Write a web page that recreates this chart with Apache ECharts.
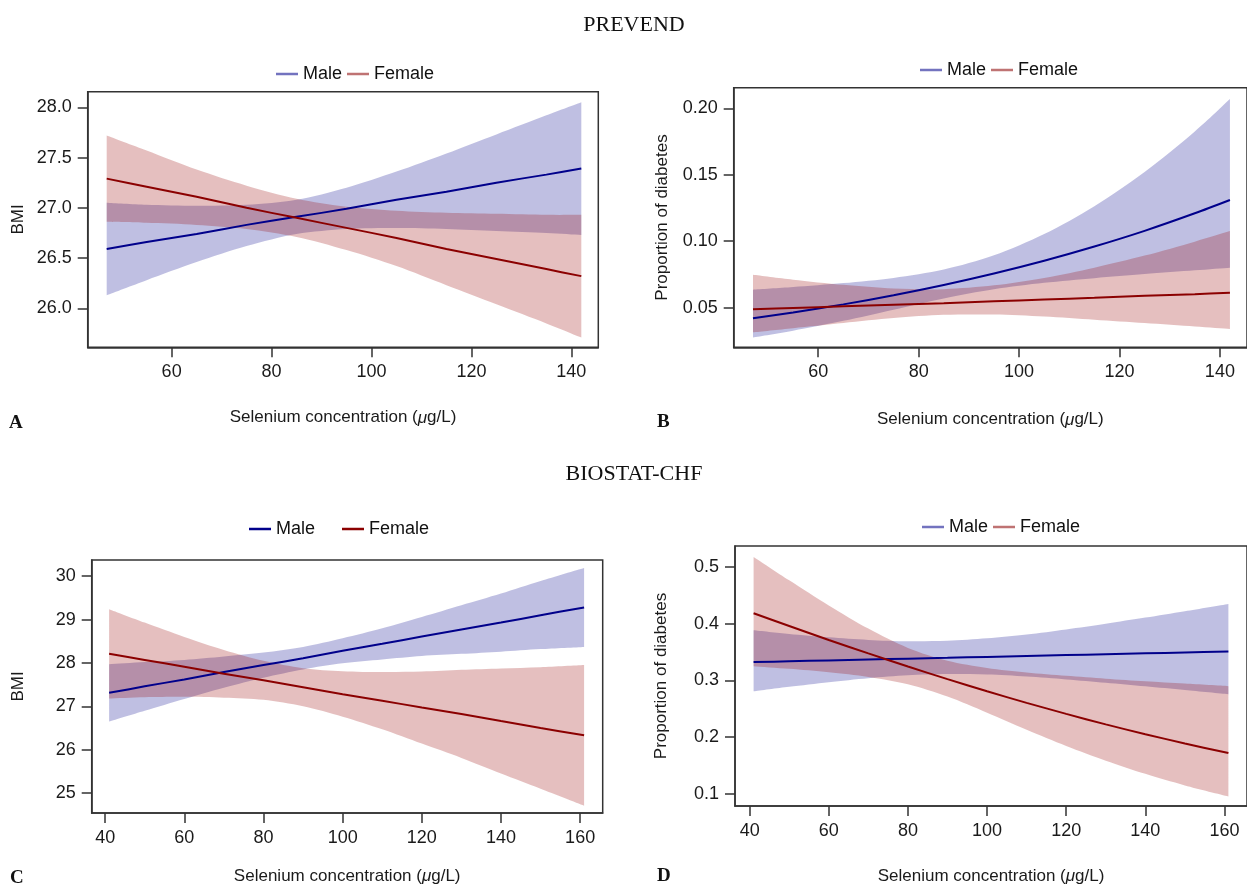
<!DOCTYPE html>
<html>
<head>
<meta charset="utf-8">
<script src="https://cdn.jsdelivr.net/npm/echarts@6/dist/echarts.min.js"></script>
<style>
html,body{margin:0;padding:0;background:#fff;}
#chart{width:1247px;height:886px;}
</style>
</head>
<body>
<div id="chart"></div>
<script>
// ---------- DATA ----------
// Panel A/B x positions (PREVEND), Panel C/D x positions (BIOSTAT-CHF)
const xsPrevend = [47, 55, 65, 75, 85, 95, 105, 115, 125, 135, 142];
const xsBiostat = [41, 50, 60, 70, 80, 90, 100, 110, 120, 130, 140, 150, 161];

// Panel A: BMI (PREVEND)
const maleA_fit = [26.59, 26.66, 26.74, 26.83, 26.91, 26.99, 27.08, 27.16, 27.25, 27.33, 27.39];
const maleA_lo  = [26.13, 26.28, 26.46, 26.62, 26.74, 26.79, 26.80, 26.79, 26.77, 26.75, 26.73];
const maleA_hi  = [27.05, 27.03, 27.02, 27.03, 27.08, 27.20, 27.36, 27.54, 27.73, 27.92, 28.05];
const femA_fit  = [27.29, 27.21, 27.11, 27.00, 26.90, 26.80, 26.70, 26.59, 26.49, 26.39, 26.32];
const femA_lo   = [26.86, 26.85, 26.83, 26.79, 26.71, 26.58, 26.42, 26.23, 26.04, 25.85, 25.71];
const femA_hi   = [27.72, 27.57, 27.38, 27.22, 27.09, 27.01, 26.97, 26.95, 26.94, 26.93, 26.93];

// Panel B: Proportion of diabetes (PREVEND)
const maleB_fit = [0.0420, 0.0464, 0.0525, 0.0594, 0.0671, 0.0757, 0.0853, 0.0960, 0.1078, 0.1210, 0.1310];
const maleB_lo  = [0.0276, 0.0327, 0.0401, 0.0485, 0.0570, 0.0639, 0.0687, 0.0722, 0.0753, 0.0781, 0.0801];
const maleB_hi  = [0.0635, 0.0655, 0.0685, 0.0724, 0.0787, 0.0894, 0.1054, 0.1264, 0.1521, 0.1826, 0.2070];
const femB_fit  = [0.0488, 0.0498, 0.0510, 0.0522, 0.0534, 0.0548, 0.0561, 0.0574, 0.0589, 0.0602, 0.0613];
const femB_lo   = [0.0315, 0.0346, 0.0385, 0.0422, 0.0446, 0.0448, 0.0433, 0.0409, 0.0384, 0.0358, 0.0340];
const femB_hi   = [0.0748, 0.0711, 0.0672, 0.0644, 0.0639, 0.0668, 0.0724, 0.0801, 0.0892, 0.0997, 0.1076];

// Panel C: BMI (BIOSTAT-CHF)
const maleC_fit = [27.31, 27.46, 27.62, 27.79, 27.95, 28.11, 28.28, 28.44, 28.61, 28.77, 28.93, 29.10, 29.28];
const maleC_lo  = [26.65, 26.90, 27.17, 27.43, 27.66, 27.85, 27.99, 28.08, 28.16, 28.21, 28.26, 28.32, 28.37];
const maleC_hi  = [27.97, 28.02, 28.07, 28.15, 28.24, 28.37, 28.57, 28.80, 29.06, 29.33, 29.60, 29.89, 30.19];
const femC_fit  = [28.21, 28.07, 27.91, 27.75, 27.60, 27.44, 27.28, 27.13, 26.97, 26.82, 26.66, 26.50, 26.33];
const femC_lo   = [27.18, 27.21, 27.22, 27.20, 27.15, 27.00, 26.76, 26.47, 26.14, 25.81, 25.45, 25.10, 24.71];
const femC_hi   = [29.24, 28.93, 28.60, 28.30, 28.05, 27.88, 27.81, 27.79, 27.80, 27.84, 27.87, 27.90, 27.95];

// Panel D: Proportion of diabetes (BIOSTAT-CHF)
const maleD_fit = [0.3322, 0.3335, 0.3351, 0.3366, 0.3382, 0.3397, 0.3413, 0.3428, 0.3444, 0.3460, 0.3475, 0.3491, 0.3508];
const maleD_lo  = [0.2806, 0.2886, 0.2968, 0.3038, 0.3089, 0.3111, 0.3101, 0.3067, 0.3017, 0.2959, 0.2895, 0.2828, 0.2754];
const maleD_hi  = [0.3881, 0.3817, 0.3757, 0.3711, 0.3688, 0.3696, 0.3739, 0.3808, 0.3897, 0.3997, 0.4105, 0.4218, 0.4346];
const femD_fit  = [0.4180, 0.3956, 0.3711, 0.3474, 0.3243, 0.3021, 0.2807, 0.2604, 0.2410, 0.2225, 0.2052, 0.1889, 0.1720];
const femD_lo   = [0.3250, 0.3203, 0.3142, 0.3060, 0.2931, 0.2715, 0.2431, 0.2131, 0.1846, 0.1586, 0.1354, 0.1150, 0.0957];
const femD_hi   = [0.5172, 0.4761, 0.4319, 0.3911, 0.3571, 0.3345, 0.3218, 0.3139, 0.3080, 0.3030, 0.2985, 0.2943, 0.2898];

// Tick labels
const xTicksPrevend = [60, 80, 100, 120, 140];
const xTicksBiostat = [40, 60, 80, 100, 120, 140, 160];
const yTicksA = [26.0, 26.5, 27.0, 27.5, 28.0];
const yTicksB = [0.05, 0.10, 0.15, 0.20];
const yTicksC = [25, 26, 27, 28, 29, 30];
const yTicksD = [0.1, 0.2, 0.3, 0.4, 0.5];

const seriesNames = ['Male', 'Female'];
const cohortTitles = ['PREVEND', 'BIOSTAT-CHF'];
const panelLetters = ['A', 'B', 'C', 'D'];
const xAxisTitle = 'Selenium concentration ({mu|\u03bc}g/L)';
const yTitles = ['BMI', 'Proportion of diabetes', 'BMI', 'Proportion of diabetes'];

// ---------- STYLE / LAYOUT ----------
const SANS = "'Liberation Sans', Arial, Helvetica, sans-serif";
const SERIF = "'Liberation Serif', 'Times New Roman', serif";
const LINE_BLUE = '#00008b';
const LINE_RED = '#8b0000';
const BAND_BLUE = 'rgba(0,0,139,0.25)';
const BAND_RED = 'rgba(150,0,0,0.25)';
const AXIS_COL = '#333';

const panels = [
  { xs: xsPrevend, m: [maleA_fit, maleA_lo, maleA_hi], f: [femA_fit, femA_lo, femA_hi],
    grid: { left: 87.7, top: 91.7, width: 510.6, height: 255.6 },
    x: [43.2, 145.4], y: [25.612, 28.155], xt: xTicksPrevend, yt: yTicksA, yDec: 1,
    xNameGap: 62, yNameGap: 61,
    legend: { left: 276, top: 65, gap: 5, mc: 'rgba(0,0,139,0.55)', fc: 'rgba(139,0,0,0.55)' } },
  { xs: xsPrevend, m: [maleB_fit, maleB_lo, maleB_hi], f: [femB_fit, femB_lo, femB_hi],
    grid: { left: 733.7, top: 87.7, width: 519.8, height: 259.6 },
    x: [43.16, 145.4], y: [0.0202, 0.2155], xt: xTicksPrevend, yt: yTicksB, yDec: 2,
    xNameGap: 64, yNameGap: 63,
    legend: { left: 920, top: 61, gap: 5, mc: 'rgba(0,0,139,0.55)', fc: 'rgba(139,0,0,0.55)' } },
  { xs: xsBiostat, m: [maleC_fit, maleC_lo, maleC_hi], f: [femC_fit, femC_lo, femC_hi],
    grid: { left: 91.7, top: 560, width: 511, height: 254.7 },
    x: [36.6, 165.7], y: [24.54, 30.373], xt: xTicksBiostat, yt: yTicksC, yDec: 0,
    xNameGap: 55, yNameGap: 65,
    legend: { left: 249, top: 520, gap: 27, mc: LINE_BLUE, fc: LINE_RED } },
  { xs: xsBiostat, m: [maleD_fit, maleD_lo, maleD_hi], f: [femD_fit, femD_lo, femD_hi],
    grid: { left: 735, top: 546, width: 520.5, height: 260 },
    x: [36.3, 165.7], y: [0.0788, 0.5365], xt: xTicksBiostat, yt: yTicksD, yDec: 1,
    xNameGap: 62, yNameGap: 65,
    legend: { left: 922, top: 518, gap: 5, mc: 'rgba(0,0,139,0.55)', fc: 'rgba(139,0,0,0.55)' } }
];

// smooth edge through pixel points (same idea as a line series' smooth option)
function smoothSegs(pts, s) {
  let d = '';
  const n = pts.length;
  for (let i = 0; i < n - 1; i++) {
    const p0 = pts[Math.max(i - 1, 0)], p1 = pts[i], p2 = pts[i + 1], p3 = pts[Math.min(i + 2, n - 1)];
    const c1 = [p1[0] + (p2[0] - p0[0]) * s / 2, p1[1] + (p2[1] - p0[1]) * s / 2];
    const c2 = [p2[0] - (p3[0] - p1[0]) * s / 2, p2[1] - (p3[1] - p1[1]) * s / 2];
    d += ' C' + c1[0] + ' ' + c1[1] + ' ' + c2[0] + ' ' + c2[1] + ' ' + p2[0] + ' ' + p2[1];
  }
  return d;
}

const grids = [], xAxes = [], yAxes = [], series = [], legends = [];

panels.forEach((p, i) => {
  grids.push(Object.assign({ show: true, borderColor: AXIS_COL, borderWidth: 1.5, backgroundColor: 'transparent' }, p.grid));
  xAxes.push({
    type: 'value', gridIndex: i, min: p.x[0], max: p.x[1],
    axisLine: { show: true, onZero: false, lineStyle: { color: AXIS_COL, width: 1.5 } },
    axisTick: { show: true, length: 10, customValues: p.xt, lineStyle: { color: AXIS_COL, width: 1.5 } },
    axisLabel: { customValues: p.xt, margin: 16, fontSize: 18, fontFamily: SANS, color: '#1a1a1a' },
    splitLine: { show: false },
    name: xAxisTitle, nameLocation: 'middle', nameGap: p.xNameGap,
    nameTextStyle: { fontSize: 17, fontFamily: SANS, color: '#1a1a1a',
      rich: { mu: { fontSize: 17, fontFamily: SANS, fontStyle: 'italic', color: '#1a1a1a' } } }
  });
  yAxes.push({
    type: 'value', gridIndex: i, min: p.y[0], max: p.y[1],
    axisLine: { show: true, onZero: false, lineStyle: { color: AXIS_COL, width: 1.5 } },
    axisTick: { show: true, length: 10, customValues: p.yt, lineStyle: { color: AXIS_COL, width: 1.5 } },
    axisLabel: { customValues: p.yt, margin: 16, fontSize: 18, fontFamily: SANS, color: '#1a1a1a',
      formatter: v => Number(v).toFixed(p.yDec) },
    splitLine: { show: false },
    name: yTitles[i], nameLocation: 'middle', nameGap: p.yNameGap,
    nameTextStyle: { fontSize: 17, fontFamily: SANS, color: '#1a1a1a' }
  });

  // Confidence band: upper edge, then lower edge reversed, positioned via the axis scales
  const band = (arr, key, color) => {
    const lo = arr[1], hi = arr[2], xs = p.xs;
    series.push({
      type: 'custom', name: 'band' + key + i, xAxisIndex: i, yAxisIndex: i,
      silent: true, clip: true, z: 2,
      data: [[xs[0], lo[0]]],
      renderItem: (params, api) => {
        const up = xs.map((x, j) => api.coord([x, hi[j]]));
        const dn = xs.map((x, j) => api.coord([x, lo[j]])).reverse();
        const d = 'M' + up[0][0] + ' ' + up[0][1] + smoothSegs(up, 0.3) +
          ' L' + dn[0][0] + ' ' + dn[0][1] + smoothSegs(dn, 0.3) + ' Z';
        return { type: 'path', shape: { pathData: d }, style: { fill: color, stroke: null } };
      }
    });
  };
  band(p.m, 'M', BAND_BLUE);
  band(p.f, 'F', BAND_RED);

  series.push({
    type: 'line', name: seriesNames[0], xAxisIndex: i, yAxisIndex: i, symbol: 'none', smooth: 0.3,
    lineStyle: { color: LINE_BLUE, width: 2 }, itemStyle: { color: LINE_BLUE },
    data: p.xs.map((x, j) => [x, p.m[0][j]]), z: 5
  });
  series.push({
    type: 'line', name: seriesNames[1], xAxisIndex: i, yAxisIndex: i, symbol: 'none', smooth: 0.3,
    lineStyle: { color: LINE_RED, width: 2 }, itemStyle: { color: LINE_RED },
    data: p.xs.map((x, j) => [x, p.f[0][j]]), z: 5
  });

  legends.push({
    left: p.legend.left, top: p.legend.top, orient: 'horizontal',
    itemGap: p.legend.gap, itemWidth: 22, itemHeight: 2.5, padding: 0,
    selectedMode: false,
    textStyle: { fontSize: 18, fontFamily: SANS, color: '#111' },
    data: [
      { name: seriesNames[0], icon: 'rect', itemStyle: { color: p.legend.mc } },
      { name: seriesNames[1], icon: 'rect', itemStyle: { color: p.legend.fc } }
    ]
  });
});

const titles = [];
const letterPos = [[9, 414], [657, 413], [10, 869], [657, 867]];
panelLetters.forEach((L, i) => {
  titles.push({ text: L, left: letterPos[i][0], top: letterPos[i][1], padding: 0,
    textStyle: { fontFamily: SERIF, fontSize: 19, fontWeight: 'bold', color: '#111' } });
});

const graphics = [
  { type: 'text', x: 634, y: 25, style: { text: cohortTitles[0], fill: '#111',
      font: 'normal 22px ' + SERIF, textAlign: 'center', textVerticalAlign: 'middle' } },
  { type: 'text', x: 634, y: 474, style: { text: cohortTitles[1], fill: '#111',
      font: 'normal 22px ' + SERIF, textAlign: 'center', textVerticalAlign: 'middle' } }
];

const chart = echarts.init(document.getElementById('chart'), null, { renderer: 'canvas' });
chart.setOption({
  animation: false,
  backgroundColor: '#fff',
  title: titles,
  graphic: graphics,
  legend: legends,
  grid: grids,
  xAxis: xAxes,
  yAxis: yAxes,
  series: series
});
</script>
</body>
</html>
